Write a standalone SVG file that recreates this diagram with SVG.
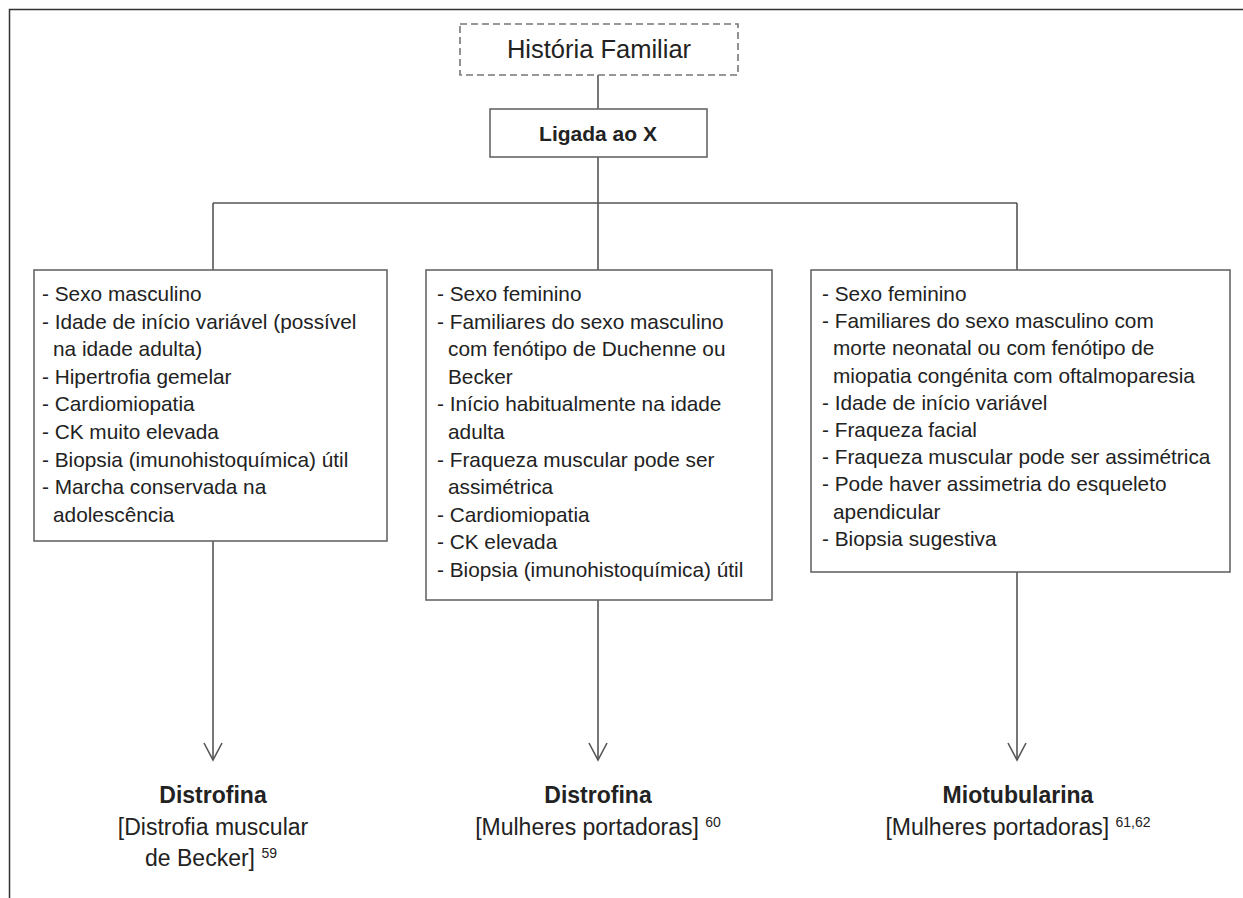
<svg xmlns="http://www.w3.org/2000/svg" width="1243" height="898" viewBox="0 0 1243 898">
  <style>
    .frame { fill: none; stroke: #333; stroke-width: 1.5; }
    .box { fill: #fff; stroke: #666; stroke-width: 1.6; }
    .dashed { fill: #fff; stroke: #777; stroke-width: 1.6; stroke-dasharray: 7 4; }
    .wire { fill: none; stroke: #555; stroke-width: 1.6; }
    .txt { font-family: "Liberation Sans", Arial, sans-serif; fill: #222; }
    .item { font-size: 20.8px; }
    .title { font-size: 25.5px; }
    .bold { font-weight: bold; }
    .label { font-size: 23px; }
    .sup { font-size: 14px; }
  </style>

  <!-- page frame -->
  <path class="frame" d="M9.5 898 V9.5 H1243"/>

  <!-- connectors -->
  <g id="connectors">
    <line class="wire" x1="598" y1="75" x2="598" y2="109"/>
    <line class="wire" x1="598" y1="157" x2="598" y2="203"/>
    <line class="wire" x1="213" y1="203" x2="1017" y2="203"/>
    <line class="wire" x1="213" y1="203" x2="213" y2="270"/>
    <line class="wire" x1="598" y1="203" x2="598" y2="270"/>
    <line class="wire" x1="1017" y1="203" x2="1017" y2="270"/>
    <line class="wire" x1="213" y1="541" x2="213" y2="760"/>
    <polyline class="wire" points="204,743 213,760 222,743"/>
    <line class="wire" x1="598" y1="600" x2="598" y2="760"/>
    <polyline class="wire" points="589,743 598,760 607,743"/>
    <line class="wire" x1="1017" y1="572" x2="1017" y2="760"/>
    <polyline class="wire" points="1008,743 1017,760 1026,743"/>
  </g>

  <!-- family history -->
  <g id="historia">
    <rect class="dashed" x="460" y="24" width="278" height="51"/>
    <text class="txt title" x="599" y="58" text-anchor="middle">História Familiar</text>
  </g>

  <!-- X-linked -->
  <g id="ligada-x">
    <rect class="box" x="490" y="109" width="217" height="48"/>
    <text class="txt bold" x="598" y="141" text-anchor="middle" font-size="21px">Ligada ao X</text>
  </g>

  <!-- Becker criteria -->
  <g id="criterios-becker">
    <rect class="box" x="34" y="270" width="353" height="271"/>
    <text class="txt item">
      <tspan x="42" y="301">- Sexo masculino</tspan>
      <tspan x="42" dy="27.6">- Idade de início variável (possível</tspan>
      <tspan x="53" dy="27.6">na idade adulta)</tspan>
      <tspan x="42" dy="27.6">- Hipertrofia gemelar</tspan>
      <tspan x="42" dy="27.6">- Cardiomiopatia</tspan>
      <tspan x="42" dy="27.6">- CK muito elevada</tspan>
      <tspan x="42" dy="27.6">- Biopsia (imunohistoquímica) útil</tspan>
      <tspan x="42" dy="27.6">- Marcha conservada na</tspan>
      <tspan x="53" dy="27.6">adolescência</tspan>
    </text>
  </g>

  <!-- dystrophin carriers criteria -->
  <g id="criterios-portadoras-distrofina">
    <rect class="box" x="426" y="270" width="346" height="330"/>
    <text class="txt item">
      <tspan x="437" y="301">- Sexo feminino</tspan>
      <tspan x="437" dy="27.6">- Familiares do sexo masculino</tspan>
      <tspan x="448" dy="27.6">com fenótipo de Duchenne ou</tspan>
      <tspan x="448" dy="27.6">Becker</tspan>
      <tspan x="437" dy="27.6">- Início habitualmente na idade</tspan>
      <tspan x="448" dy="27.6">adulta</tspan>
      <tspan x="437" dy="27.6">- Fraqueza muscular pode ser</tspan>
      <tspan x="448" dy="27.6">assimétrica</tspan>
      <tspan x="437" dy="27.6">- Cardiomiopatia</tspan>
      <tspan x="437" dy="27.6">- CK elevada</tspan>
      <tspan x="437" dy="27.6">- Biopsia (imunohistoquímica) útil</tspan>
    </text>
  </g>

  <!-- myotubularin carriers criteria -->
  <g id="criterios-portadoras-miotubularina">
    <rect class="box" x="811" y="270" width="419" height="302"/>
    <text class="txt item">
      <tspan x="822" y="301">- Sexo feminino</tspan>
      <tspan x="822" dy="27.2">- Familiares do sexo masculino com</tspan>
      <tspan x="833" dy="27.2">morte neonatal ou com fenótipo de</tspan>
      <tspan x="833" dy="27.2">miopatia congénita com oftalmoparesia</tspan>
      <tspan x="822" dy="27.2">- Idade de início variável</tspan>
      <tspan x="822" dy="27.2">- Fraqueza facial</tspan>
      <tspan x="822" dy="27.2">- Fraqueza muscular pode ser assimétrica</tspan>
      <tspan x="822" dy="27.2">- Pode haver assimetria do esqueleto</tspan>
      <tspan x="833" dy="27.2">apendicular</tspan>
      <tspan x="822" dy="27.2">- Biopsia sugestiva</tspan>
    </text>
  </g>

  <!-- outcomes -->
  <g id="resultado-becker">
    <text class="txt label bold" x="213" y="803" text-anchor="middle">Distrofina</text>
    <text class="txt label" x="213" y="835" text-anchor="middle">[Distrofia muscular</text>
    <text class="txt label" x="211" y="866" text-anchor="middle">de Becker] <tspan class="sup" dy="-8">59</tspan></text>
  </g>
  <g id="resultado-distrofina-portadoras">
    <text class="txt label bold" x="598" y="803" text-anchor="middle">Distrofina</text>
    <text class="txt label" x="598" y="835" text-anchor="middle">[Mulheres portadoras] <tspan class="sup" dy="-8">60</tspan></text>
  </g>
  <g id="resultado-miotubularina">
    <text class="txt label bold" x="1018" y="803" text-anchor="middle">Miotubularina</text>
    <text class="txt label" x="1018" y="835" text-anchor="middle">[Mulheres portadoras] <tspan class="sup" dy="-8">61,62</tspan></text>
  </g>
</svg>
